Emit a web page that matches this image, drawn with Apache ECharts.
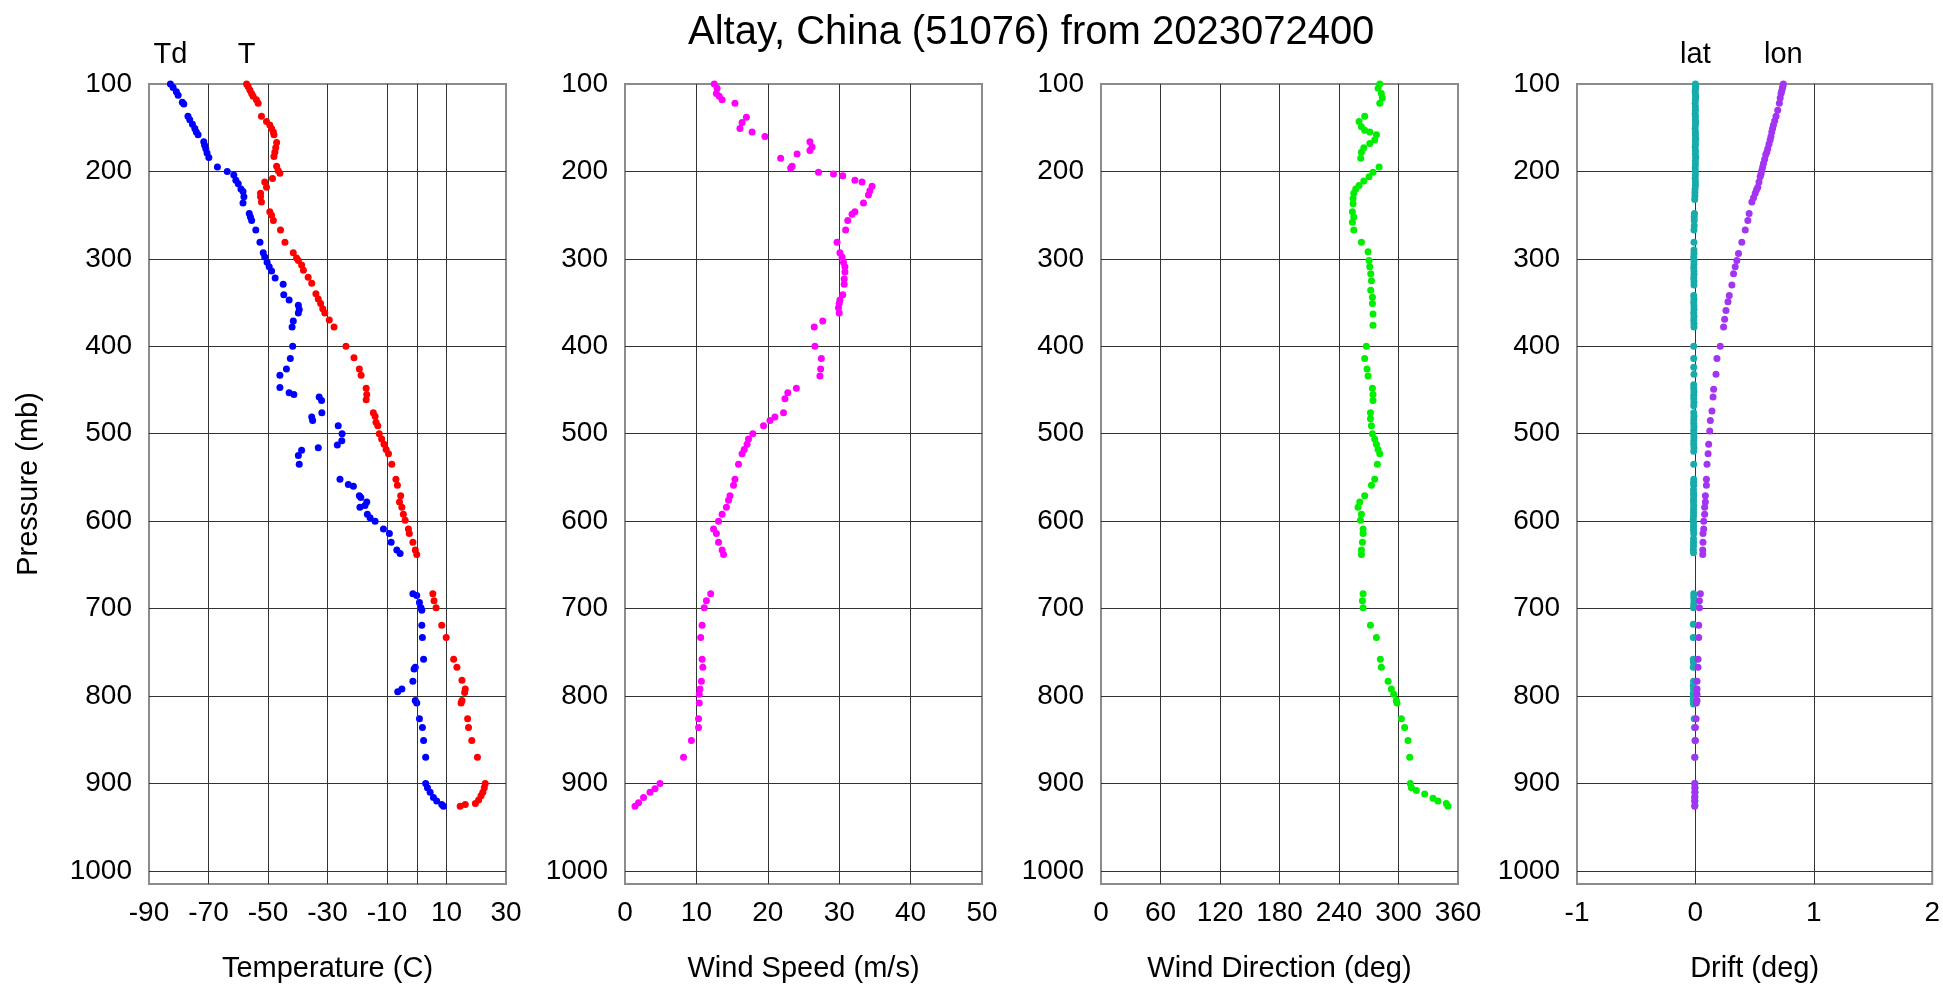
<!DOCTYPE html>
<html><head><meta charset="utf-8">
<script src="https://cdn.jsdelivr.net/npm/echarts@6/dist/echarts.min.js"></script>
<style>html,body{margin:0;padding:0;background:#fff}#c{width:1943px;height:990px}</style>
</head><body><div id="c"></div>
<script>
const titleText = 'Altay, China (51076) from 2023072400';
const pressureAxis = { min: 100, max: 1015, interval: 100 };
const panelNames = ['Temperature (C)', 'Wind Speed (m/s)', 'Wind Direction (deg)', 'Drift (deg)'];
const panelMin = [-90, 0, 0, -1];
const panelMax = [30, 50, 360, 2];
const panelInterval = [20, 10, 60, 1];
const tempRefLine = 0;
const profileLabels = { td: 'Td', t: 'T', lat: 'lat', lon: 'lon' };

// [value, pressure(mb)]
const tdProfile = [[-82.8,100],[-81.9,104],[-80.8,109],[-80.2,113],[-78.8,121],[-78.3,123],[-76.9,137],[-76.3,141],[-75.4,146],[-74.6,151],[-74.1,155],[-73.5,158],[-71.6,166],[-71.3,170],[-70.9,174],[-70.5,179],[-69.9,184],[-67.0,195],[-63.7,200],[-61.5,204],[-60.8,210],[-60.0,214],[-59.1,220],[-58.4,223],[-58.1,229],[-58.4,236],[-56.3,248],[-55.9,252],[-55.5,256],[-54.1,267],[-52.7,281],[-51.6,293],[-51.1,298],[-50.3,304],[-49.6,309],[-48.8,314],[-47.6,322],[-44.9,329],[-44.7,341],[-42.9,347],[-39.8,353],[-39.5,358],[-39.8,362],[-41.5,371],[-41.9,378],[-41.7,400],[-42.5,414],[-43.8,426],[-46.0,433],[-46.0,447],[-42.9,453],[-41.3,455],[-32.8,458],[-32.0,462],[-31.9,476],[-35.3,481],[-35.0,485],[-26.4,491],[-25.1,500],[-25.2,508],[-26.7,513],[-33.1,516],[-38.7,519],[-39.8,525],[-39.5,535],[-25.8,552],[-23.0,558],[-21.3,560],[-19.3,571],[-18.8,573],[-16.8,578],[-17.4,582],[-19.1,584],[-16.6,592],[-15.7,596],[-14.0,600],[-11.2,609],[-9.2,614],[-8.6,624],[-6.7,633],[-5.6,637],[-1.3,683],[0.0,685],[0.9,693],[1.4,699],[1.7,702],[1.7,719],[1.9,733],[2.3,758],[-0.5,767],[-0.9,769],[-1.3,783],[-5.0,792],[-6.4,795],[-0.5,805],[0.0,808],[0.9,826],[1.9,836],[2.3,851],[3.0,870],[3.0,900],[3.6,905],[4.5,910],[5.6,916],[6.7,920],[8.4,924],[9.0,926]];

const tProfile = [[-57.2,100],[-56.7,103],[-56.1,107],[-55.5,111],[-55.0,114],[-53.9,118],[-53.3,122],[-52.2,137],[-50.5,143],[-49.4,147],[-48.8,151],[-48.2,155],[-48.0,158],[-47.1,167],[-47.4,173],[-47.7,178],[-48.0,183],[-47.1,194],[-46.6,199],[-46.0,202],[-48.5,208],[-51.1,212],[-50.5,218],[-52.5,225],[-52.5,229],[-52.2,235],[-49.4,246],[-48.8,250],[-48.2,256],[-45.8,267],[-44.3,281],[-41.5,293],[-40.4,299],[-39.8,302],[-38.7,307],[-38.1,313],[-36.5,321],[-35.3,328],[-33.9,340],[-33.1,346],[-32.3,351],[-31.6,357],[-30.9,362],[-29.4,370],[-27.8,378],[-23.8,400],[-21.1,413],[-19.3,426],[-18.7,433],[-17.0,448],[-16.8,455],[-17.0,461],[-14.6,476],[-14.0,480],[-13.7,487],[-13.1,491],[-12.6,500],[-11.8,506],[-11.0,512],[-10.3,518],[-9.5,523],[-8.4,535],[-7.0,552],[-6.5,559],[-5.4,571],[-5.8,578],[-5.0,584],[-4.5,592],[-3.9,599],[-2.8,609],[-2.5,614],[-1.3,624],[-0.5,633],[0.0,638],[5.4,683],[5.8,691],[6.5,699],[8.4,719],[9.9,733],[12.4,758],[13.5,767],[15.2,782],[16.3,792],[16.1,796],[15.2,805],[14.9,808],[17.1,826],[17.4,836],[18.5,851],[20.4,870],[23.0,900],[22.7,905],[22.2,910],[21.6,914],[20.8,919],[19.7,923],[16.3,924],[14.6,926]];

const wsProfile = [[12.5,100],[12.9,105],[12.8,111],[13.2,114],[13.6,118],[15.4,122],[17.0,138],[16.4,144],[16.1,151],[17.8,155],[19.6,160],[25.9,166],[26.2,172],[25.9,176],[24.1,180],[21.8,185],[23.4,194],[23.2,196],[27.1,201],[29.2,203],[30.5,205],[32.2,210],[33.2,212],[34.6,217],[34.3,222],[34.1,227],[33.4,236],[32.2,246],[31.8,249],[31.2,256],[30.9,267],[29.7,281],[30.1,293],[30.4,298],[30.6,304],[30.8,309],[30.8,315],[30.7,323],[30.7,329],[30.5,341],[30.1,347],[30.0,351],[29.9,356],[30.0,362],[27.7,371],[26.5,378],[26.6,400],[27.5,414],[27.4,426],[27.3,434],[24.0,448],[22.8,453],[22.4,460],[22.2,476],[21.0,481],[20.3,485],[19.4,491],[17.9,500],[17.3,506],[17.1,512],[16.7,518],[16.4,523],[15.9,535],[15.4,552],[15.2,559],[14.7,571],[14.5,576],[14.2,584],[13.6,592],[13.1,600],[12.4,609],[12.8,614],[13.1,624],[13.6,633],[13.8,638],[12.0,683],[11.4,691],[11.1,699],[10.8,719],[10.6,733],[10.8,758],[10.9,767],[10.7,783],[10.5,792],[10.4,798],[10.4,808],[10.3,826],[10.3,836],[9.3,851],[8.2,870],[4.9,900],[4.2,906],[3.5,910],[2.6,916],[1.9,922],[1.4,926]];

const wdProfile = [[281.1,100],[279.4,105],[282.7,111],[283.7,116],[281.1,122],[265.9,137],[260.2,143],[262.6,149],[265.9,153],[271.0,155],[277.7,158],[276.0,164],[271.0,168],[265.0,173],[262.6,178],[261.9,185],[280.4,195],[274.3,201],[270.3,206],[265.0,211],[260.2,216],[256.9,220],[254.9,225],[254.2,231],[254.2,237],[253.5,246],[254.9,252],[253.5,258],[254.9,267],[262.6,281],[269.3,292],[270.3,302],[271.0,309],[272.0,317],[272.7,325],[272.0,336],[273.7,344],[273.7,351],[274.3,363],[274.3,376],[267.6,400],[265.9,414],[268.3,426],[269.3,434],[273.7,448],[274.3,455],[274.3,462],[271.7,476],[271.7,483],[272.7,491],[273.7,500],[276.0,506],[277.7,512],[279.4,518],[281.1,523],[278.7,535],[276.0,552],[272.7,559],[265.9,571],[260.9,578],[259.2,584],[262.6,592],[261.6,599],[264.3,609],[264.3,614],[263.6,624],[262.6,633],[262.6,638],[264.3,683],[263.6,691],[264.3,699],[271.7,719],[277.7,733],[281.7,758],[282.7,767],[289.5,783],[292.8,792],[295.2,798],[297.8,805],[298.5,808],[302.9,826],[306.2,836],[309.6,851],[311.3,870],[311.9,900],[313.0,905],[318.0,908],[326.4,912],[334.8,917],[339.8,920],[348.2,923],[349.9,926]];

const latProfile = [[0.000,100],[0.002,103],[0.000,106],[-0.002,109],[0.000,112],[0.002,115],[0.000,118],[-0.002,122],[0.000,126],[0.000,130],[-0.002,134],[0.000,137],[0.000,141],[0.002,144],[0.000,147],[-0.002,151],[0.000,155],[0.000,158],[0.002,162],[0.000,165],[0.000,169],[-0.002,172],[0.000,176],[0.000,180],[0.002,184],[0.000,188],[0.000,192],[-0.002,196],[0.000,200],[0.000,204],[-0.002,208],[0.000,212],[0.000,216],[-0.003,220],[-0.004,224],[-0.004,228],[-0.006,232],[-0.008,248],[-0.010,252],[-0.010,256],[-0.010,262],[-0.012,267],[-0.012,281],[-0.012,290],[-0.012,294],[-0.014,298],[-0.012,302],[-0.012,306],[-0.014,310],[-0.012,314],[-0.012,318],[-0.014,322],[-0.012,326],[-0.012,330],[-0.014,342],[-0.012,346],[-0.014,350],[-0.012,354],[-0.012,358],[-0.014,362],[-0.012,366],[-0.014,370],[-0.012,374],[-0.012,378],[-0.014,400],[-0.014,414],[-0.014,424],[-0.012,432],[-0.014,444],[-0.014,448],[-0.012,452],[-0.014,456],[-0.014,460],[-0.012,464],[-0.014,468],[-0.014,476],[-0.012,480],[-0.014,484],[-0.014,488],[-0.012,492],[-0.014,496],[-0.014,500],[-0.012,504],[-0.014,508],[-0.014,512],[-0.012,516],[-0.014,520],[-0.014,535],[-0.014,552],[-0.016,556],[-0.014,559],[-0.016,564],[-0.016,568],[-0.014,571],[-0.016,575],[-0.016,578],[-0.014,582],[-0.016,586],[-0.016,590],[-0.016,594],[-0.018,598],[-0.016,602],[-0.016,606],[-0.016,610],[-0.014,614],[-0.016,620],[-0.016,624],[-0.016,628],[-0.018,632],[-0.016,636],[-0.014,683],[-0.014,687],[-0.012,691],[-0.014,695],[-0.016,699],[-0.018,718],[-0.018,733],[-0.018,758],[-0.016,762],[-0.018,767],[-0.016,783],[-0.018,788],[-0.016,792],[-0.018,797],[-0.016,801],[-0.018,805],[-0.016,809],[-0.010,826],[-0.008,836],[-0.004,851],[-0.004,870],[-0.004,900],[-0.004,905],[-0.004,910],[-0.004,915],[-0.004,920],[-0.004,925]];

const lonProfile = [[0.743,100],[0.738,103],[0.735,105],[0.729,108],[0.723,111],[0.716,116],[0.709,122],[0.695,130],[0.681,137],[0.670,142],[0.659,147],[0.652,151],[0.645,155],[0.638,160],[0.631,164],[0.621,169],[0.611,174],[0.603,178],[0.594,181],[0.585,186],[0.575,191],[0.568,195],[0.561,199],[0.554,203],[0.547,206],[0.537,212],[0.527,218],[0.516,221],[0.505,225],[0.491,230],[0.477,235],[0.454,248],[0.443,256],[0.421,267],[0.392,281],[0.364,294],[0.350,302],[0.336,309],[0.322,317],[0.308,330],[0.286,342],[0.275,349],[0.258,359],[0.247,369],[0.238,378],[0.210,400],[0.182,414],[0.174,432],[0.154,449],[0.149,458],[0.140,474],[0.126,485],[0.121,497],[0.112,512],[0.107,523],[0.098,535],[0.093,552],[0.093,559],[0.084,571],[0.084,578],[0.078,584],[0.078,592],[0.070,600],[0.070,609],[0.064,614],[0.064,624],[0.062,633],[0.062,638],[0.042,683],[0.034,691],[0.034,699],[0.028,719],[0.028,733],[0.022,758],[0.022,767],[0.014,783],[0.014,792],[0.014,798],[0.014,805],[0.008,808],[0.006,826],[0.000,836],[0.000,851],[-0.006,870],[-0.006,900],[-0.004,905],[-0.004,910],[-0.006,916],[-0.006,920],[-0.006,926]];

const FONT = "'Liberation Sans', Arial, Helvetica, sans-serif";
const gridLefts = [149, 625, 1101, 1577];
const GRID_W = 357, GRID_TOP = 84, GRID_H = 800;
const splitColor = '#333333';

const grids = gridLefts.map(l => ({
  left: l, top: GRID_TOP, width: GRID_W, height: GRID_H,
  show: true, borderColor: '#8c8c8c', borderWidth: 2, backgroundColor: 'transparent'
}));

const xAxes = panelNames.map((n, i) => ({
  type: 'value', gridIndex: i, min: panelMin[i], max: panelMax[i], interval: panelInterval[i],
  name: n, nameLocation: 'middle', nameGap: 70,
  nameTextStyle: { fontFamily: FONT, fontSize: 29, color: '#000' },
  axisLine: { show: false }, axisTick: { show: false },
  axisLabel: { fontFamily: FONT, fontSize: 28, color: '#000', margin: 15,
    showMinLabel: true, showMaxLabel: true },
  splitLine: { show: true, showMinLine: false, showMaxLine: false, lineStyle: { color: splitColor, width: 1 } }
}));

const yAxes = panelNames.map((n, i) => ({
  type: 'value', gridIndex: i, inverse: true,
  min: pressureAxis.min, max: pressureAxis.max, interval: pressureAxis.interval,
  name: i === 0 ? 'Pressure (mb)' : '', nameLocation: 'middle', nameGap: 106,
  nameTextStyle: { fontFamily: FONT, fontSize: 29, color: '#000' },
  axisLine: { show: false }, axisTick: { show: false },
  axisLabel: { fontFamily: FONT, fontSize: 28, color: '#000', margin: 17,
    formatter: v => (v % 100 === 0 ? String(v) : '') },
  splitLine: { show: true, showMinLine: false, showMaxLine: false, lineStyle: { color: splitColor, width: 1 } }
}));

function withTopLabel(profile, text) {
  return profile.map((d, i) => i === 0 ? {
    value: d,
    label: { show: true, formatter: text, position: 'top', distance: 11,
      fontFamily: FONT, fontSize: 29, color: '#000' }
  } : d);
}

function scatter(idx, data, color, extra) {
  return Object.assign({
    type: 'scatter', xAxisIndex: idx, yAxisIndex: idx, data: data,
    symbol: 'circle', symbolSize: 7, clip: false,
    itemStyle: { color: color, opacity: 1 },
    emphasis: { disabled: true }, animation: false
  }, extra || {});
}

const series = [
  scatter(0, withTopLabel(tdProfile, profileLabels.td), '#0000ff', {
    markLine: { silent: true, symbol: 'none', animation: false,
      label: { show: false },
      lineStyle: { color: splitColor, width: 1, type: 'solid' },
      data: [{ xAxis: tempRefLine }] }
  }),
  scatter(0, withTopLabel(tProfile, profileLabels.t), '#ff0000'),
  scatter(1, wsProfile, '#ff00ff'),
  scatter(2, wdProfile, '#00ee00'),
  scatter(3, withTopLabel(latProfile, profileLabels.lat), '#17abab'),
  scatter(3, withTopLabel(lonProfile, profileLabels.lon), '#a334f2')
];

const chart = echarts.init(document.getElementById('c'), null, { renderer: 'canvas' });
chart.setOption({
  animation: false,
  backgroundColor: '#ffffff',
  title: { text: titleText, left: 683, top: 8,
    textStyle: { fontFamily: FONT, fontSize: 40, fontWeight: 'normal', color: '#000' } },
  grid: grids, xAxis: xAxes, yAxis: yAxes, series: series
});
</script></body></html>
